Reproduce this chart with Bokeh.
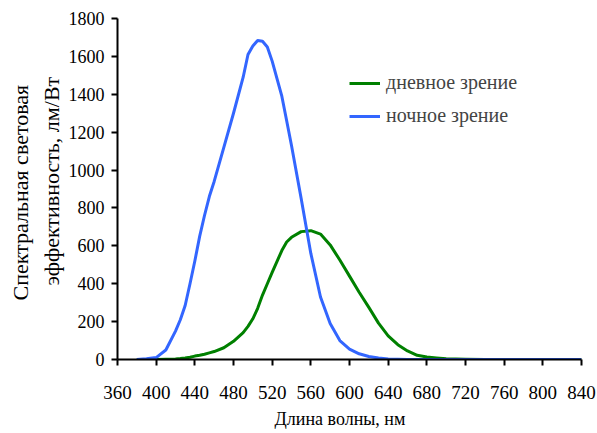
from bokeh.plotting import figure
from bokeh.models import FixedTicker, Legend, LegendItem, Range1d, Title
from bokeh.embed import file_html
from bokeh.resources import INLINE

wavelength = [380, 390, 400, 410, 420, 425, 430, 435, 440, 445, 450, 455, 460, 470, 480, 490, 495, 500, 505, 510,
              515, 520, 530, 535, 540, 550, 560, 570, 580, 590, 600, 610, 620, 630, 640, 650, 660,
              670, 680, 690, 700, 710, 720, 740, 760, 780, 800, 820, 840]
day_vision = [0, 0, 0, 1, 3, 5, 8, 12, 18, 22, 28, 35, 42, 62, 96, 142, 175, 215, 270, 340,
              400, 460, 575, 620, 645, 675, 680, 662, 605, 525, 440, 355, 275, 192, 125, 78, 45,
              22, 13, 8, 4, 2, 1, 0, 0, 0, 0, 0, 0]
night_vision = [0, 4, 10, 50, 150, 210, 285, 400, 520, 650, 760, 860, 940, 1120, 1300, 1490, 1610, 1655, 1684, 1680,
                1650, 1575, 1390, 1260, 1130, 850, 560, 330, 190, 100, 55, 30, 16, 8, 3, 1, 0,
                0, 0, 0, 0, 0, 0, 0, 0, 0, 0, 0, 0]

x_ticks = [360, 400, 440, 480, 520, 560, 600, 640, 680, 720, 760, 800, 840]
y_ticks = [0, 200, 400, 600, 800, 1000, 1200, 1400, 1600, 1800]
x_title = "Длина волны, нм"
y_title_lines = ["Спектральная световая", "эффективность, лм/Вт"]
series_names = ["дневное зрение", "ночное зрение"]

FONT = "Liberation Serif"

p = figure(width=597, height=433, output_backend="svg", toolbar_location=None,
           x_range=Range1d(360, 840), y_range=Range1d(0, 1800),
           min_border_left=117, min_border_right=16, min_border_top=18, min_border_bottom=74)
p.frame_width = 464
p.frame_height = 341

r_day = p.line(wavelength, day_vision, line_color="#008000", line_width=3, line_join="round")
r_night = p.line(wavelength, night_vision, line_color="#3366FF", line_width=3, line_join="round")

p.grid.visible = False
p.outline_line_color = None
p.background_fill_color = "white"
p.border_fill_color = "white"

for ax in (p.xaxis[0], p.yaxis[0]):
    ax.axis_line_color = "black"
    ax.axis_line_width = 2
    ax.major_tick_line_color = "black"
    ax.major_tick_line_width = 2
    ax.major_tick_out = 6
    ax.major_tick_in = 0
    ax.minor_tick_line_color = None
    ax.major_label_text_font = FONT
    ax.major_label_text_color = "black"

p.xaxis.ticker = FixedTicker(ticks=x_ticks)
p.yaxis.ticker = FixedTicker(ticks=y_ticks)
p.xaxis.major_label_text_font_size = "19px"
p.yaxis.major_label_text_font_size = "18px"
p.xaxis.major_label_standoff = 20
p.yaxis.major_label_standoff = 7

# axis titles as side-panel titles (allow exact offsets)
p.add_layout(Title(text=x_title, align="left", offset=157, standoff=14, vertical_align="top",
                   text_font=FONT, text_font_size="18px", text_font_style="normal",
                   text_color="black"), "below")
p.add_layout(Title(text=y_title_lines[1], align="left", offset=74, standoff=4,
                   text_font=FONT, text_font_size="22px", text_font_style="normal",
                   text_color="black"), "left")
p.add_layout(Title(text=y_title_lines[0], align="left", offset=59, standoff=4,
                   text_font=FONT, text_font_size="22px", text_font_style="normal",
                   text_color="black"), "left")

legend = Legend(items=[LegendItem(label=series_names[0], renderers=[r_day]),
                       LegendItem(label=series_names[1], renderers=[r_night])],
                location=(232, 232), border_line_color=None, background_fill_alpha=0,
                padding=0, margin=0, spacing=10, glyph_width=31, glyph_height=20,
                label_height=20, label_standoff=6,
                label_text_font=FONT, label_text_font_size="20px")
p.add_layout(legend)

open("out.html", "w").write(file_html(p, INLINE))
